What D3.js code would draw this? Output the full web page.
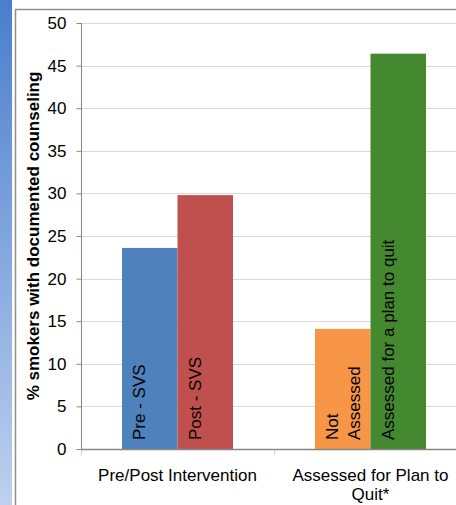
<!DOCTYPE html>
<html>
<head>
<meta charset="utf-8">
<script src="https://cdn.jsdelivr.net/npm/d3@7"></script>
<style>
  html, body { margin: 0; padding: 0; background: #fff; }
  svg { display: block; font-family: "Liberation Sans", Arial, sans-serif; }
</style>
</head>
<body>
<svg id="chart" width="456" height="505"></svg>
<script>
// Category groups along the x axis
const categories = ["Pre/Post Intervention", "Assessed for Plan to Quit*"];
// One entry per bar: its group, its label and its value (%)
const barGroups = [0, 0, 1, 1];
const barLabels = ["Pre - SVS", "Post - SVS", "Not\nAssessed", "Assessed for a plan to quit"];
const barValues = [23.6, 29.8, 14.1, 46.4];
const barColors = ["#4f81bd", "#c0504d", "#f79646", "#44892f"];
const yTicks = [0, 5, 10, 15, 20, 25, 30, 35, 40, 45, 50];
const yTitle = "% smokers with documented counseling";

const svg = d3.select("#chart");
const W = 456, H = 505;
const plot = { left: 81, right: 467, top: 23, bottom: 449 };

// Side strip with a vertical blue gradient
const defs = svg.append("defs");
const grad = defs.append("linearGradient").attr("id", "strip")
  .attr("x1", 0).attr("y1", 0).attr("x2", 0).attr("y2", 1);
grad.append("stop").attr("offset", "0%").attr("stop-color", "#4a7ecd");
grad.append("stop").attr("offset", "100%").attr("stop-color", "#bdd1ef");
svg.append("rect").attr("x", 0).attr("y", 0).attr("width", 12).attr("height", H)
  .attr("fill", "url(#strip)");

// Frame around the chart area
svg.append("path")
  .attr("d", `M15.5,${H} V9.5 H${W}`)
  .attr("fill", "none").attr("stroke", "#8f8f8f").attr("stroke-width", 1.5);

// Scales
const x = d3.scaleBand().domain(categories).range([plot.left, plot.right])
  .paddingInner(0).paddingOuter(0);
const xSub = d3.scaleBand().domain([0, 1]).range([0, x.bandwidth()])
  .paddingInner(0).paddingOuter(0.739);
const y = d3.scaleLinear().domain([0, 50]).range([plot.bottom, plot.top]);

// Horizontal gridlines
svg.append("g").selectAll("line").data(yTicks.filter(t => t > 0)).join("line")
  .attr("x1", plot.left).attr("x2", plot.right)
  .attr("y1", d => Math.round(y(d)) + 0.5).attr("y2", d => Math.round(y(d)) + 0.5)
  .attr("stroke", "#d9d9d9").attr("stroke-width", 1);

// Bars
const bars = barValues.map((v, i) => ({
  value: v, label: barLabels[i], color: barColors[i],
  x: x(categories[barGroups[i]]) + xSub(i % 2), w: xSub.bandwidth()
}));
svg.append("g").selectAll("rect").data(bars).join("rect")
  .attr("x", d => d.x).attr("width", d => d.w)
  .attr("y", d => y(d.value)).attr("height", d => y(0) - y(d.value))
  .attr("fill", d => d.color);

// Rotated labels inside the bars, reading upward from the base
const labelG = svg.append("g").selectAll("text").data(bars).join("text")
  .attr("transform", d => `translate(${d.x + 23},${y(0) - 9}) rotate(-90)`)
  .attr("font-size", 17).attr("fill", "#000").attr("text-anchor", "start");
labelG.each(function (d) {
  const lines = d.label.split("\n");
  d3.select(this).selectAll("tspan").data(lines).join("tspan")
    .attr("x", 0).attr("dy", (l, j) => j === 0 ? 0 : 22).text(l => l);
});

// Y axis
const yAxis = d3.axisLeft(y).tickValues(yTicks).tickSize(5).tickPadding(10)
  .tickFormat(d3.format("d"));
const yG = svg.append("g").attr("transform", `translate(${plot.left + 0.5},0)`).call(yAxis);
yG.select(".domain").attr("stroke", "#868686").attr("d", `M0,${plot.top}V${plot.bottom}`);
yG.selectAll(".tick line").attr("stroke", "#868686");
yG.selectAll(".tick text").attr("font-size", 17).attr("fill", "#000")
  .attr("font-family", "'Liberation Sans', Arial, sans-serif");

// X axis line and category boundary ticks
svg.append("line")
  .attr("x1", plot.left).attr("x2", plot.right)
  .attr("y1", plot.bottom + 0.5).attr("y2", plot.bottom + 0.5)
  .attr("stroke", "#868686").attr("stroke-width", 1.5);
const bounds = categories.map(c => x(c)).concat([plot.right]);
svg.append("g").selectAll("line").data(bounds).join("line")
  .attr("x1", d => d + 0.5).attr("x2", d => d + 0.5)
  .attr("y1", plot.bottom + 1).attr("y2", plot.bottom + 6)
  .attr("stroke", "#d0d0d0").attr("stroke-width", 1);

// Category labels, wrapped to the band width
const catText = svg.append("g").selectAll("text").data(categories).join("text")
  .attr("x", d => x(d) + x.bandwidth() / 2).attr("y", 481)
  .attr("text-anchor", "middle").attr("font-size", 17).attr("fill", "#000");
catText.each(function (d) {
  const el = d3.select(this);
  const words = d.split(" ");
  const lines = [];
  let cur = [];
  const probe = el.append("tspan");
  words.forEach(w => {
    const test = cur.concat([w]).join(" ");
    probe.text(test);
    if (probe.node().getComputedTextLength() > 180 && cur.length) {
      lines.push(cur.join(" "));
      cur = [w];
    } else {
      cur.push(w);
    }
  });
  lines.push(cur.join(" "));
  probe.remove();
  el.selectAll("tspan").data(lines).join("tspan")
    .attr("x", x(d) + x.bandwidth() / 2)
    .attr("dy", (l, j) => j === 0 ? 0 : 19).text(l => l);
});

// Y axis title
svg.append("text")
  .attr("transform", `translate(39,${(plot.top + plot.bottom) / 2}) rotate(-90)`)
  .attr("text-anchor", "middle").attr("font-size", 17).attr("font-weight", "bold")
  .attr("fill", "#000").text(yTitle);
</script>
</body>
</html>
